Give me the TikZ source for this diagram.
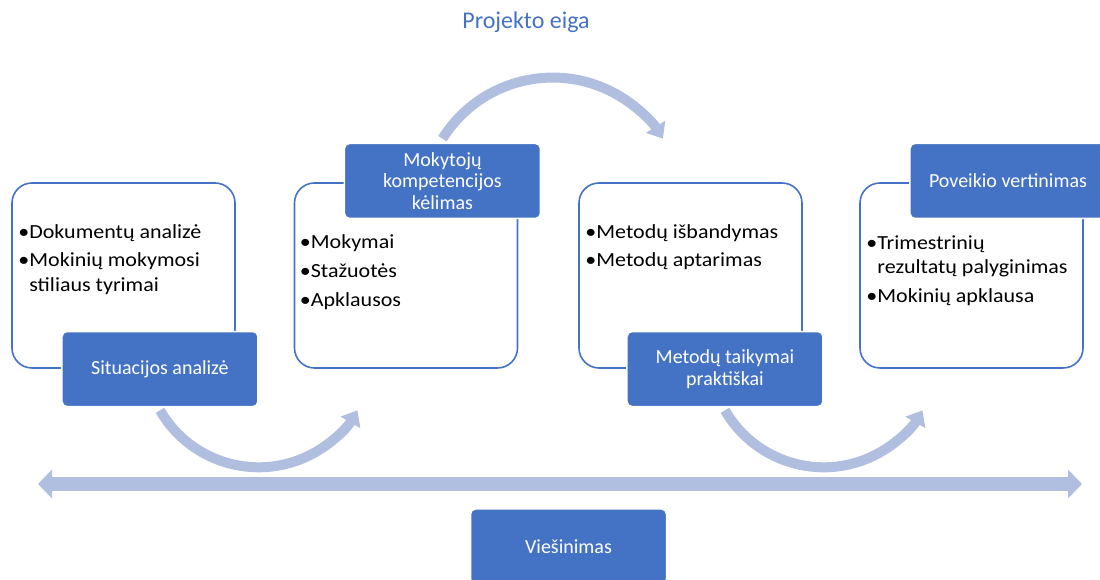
\documentclass[tikz,border=0pt]{standalone}
\usepackage{fontspec}
\setmainfont{Carlito}
\newfontfamily\listfont{Carlito}[FakeStretch = 1.1]
\usetikzlibrary{arrows.meta,positioning}

\definecolor{boxblue}{HTML}{4472C4}
\definecolor{flowblue}{HTML}{B0BEE0}

\begin{document}
\begin{tikzpicture}[%
        x = 1pt,
        y = 1pt,
        stage/.style = {%
            draw = boxblue,
            line width = 1.6pt,
            rounded corners = 20pt,
            fill = white,
            minimum width = 223pt,
            minimum height = 185pt
        },
        tag/.style = {%
            fill = boxblue,
            draw = white,
            line width = 1.5pt,
            rounded corners = 5pt,
            minimum width = 196pt,
            minimum height = 75pt,
            text = white,
            align = center,
            font = \fontsize{20}{21.5}\selectfont
        },
        items/.style = {%
            anchor = north west,
            align = left,
            inner sep = 0pt,
            font = \listfont\fontsize{20}{24.5}\selectfont
        },
        flow/.style = {%
            draw = flowblue,
            line width = 10pt,
            -{Triangle[width = 22pt, length = 14pt]}
        },
        spread/.style = {%
            draw = flowblue,
            line width = 14pt,
            {Triangle[width = 28pt, length = 14pt]}-{Triangle[width = 28pt, length = 14pt]}
        }
    ]

        % Fix the page to the size of the original.
        \clip (0, 0) rectangle (1100, 580);

        % Title over the whole process.
        \node[text = boxblue, font = \fontsize{24}{28}\selectfont] (title)
            at (526, 558) {Projekto eiga};

        % The four stage boxes with their lists.
        \node[stage] (sitbox) at (123.5, 304.5) {};
        \node[stage] (mokbox) at (406.0, 304.5) {};
        \node[stage] (metbox) at (690.5, 304.5) {};
        \node[stage] (povbox) at (971.5, 304.5) {};

        \node[items] (sitlist) at ([xshift = 7pt, yshift = -42pt]sitbox.north west)
            {\textbullet Dokumentų analizė\\[4pt]
             \textbullet Mokinių mokymosi\\
             \phantom{\textbullet}stiliaus tyrimai};
        \node[items] (moklist) at ([xshift = 6pt, yshift = -52pt]mokbox.north west)
            {\textbullet Mokymai\\[4.5pt]
             \textbullet Stažuotės\\[4.5pt]
             \textbullet Apklausos};
        \node[items] (metlist) at ([xshift = 7pt, yshift = -42pt]metbox.north west)
            {\textbullet Metodų išbandymas\\[4pt]
             \textbullet Metodų aptarimas};
        \node[items] (povlist) at ([xshift = 7pt, yshift = -53pt]povbox.north west)
            {\textbullet Trimestrinių\\
             \phantom{\textbullet}rezultatų palyginimas\\[4.5pt]
             \textbullet Mokinių apklausa};

        % Filled tags naming each stage.
        \node[tag, anchor = north west] (sit)
            at ([xshift = 50pt, yshift = 38pt]sitbox.south west) {Situacijos analizė};
        \node[tag, anchor = south west] (mok)
            at ([xshift = 50pt, yshift = -37pt]mokbox.north west)
            {Mokytojų\\kompetencijos\\kėlimas};
        \node[tag, anchor = north west] (met)
            at ([xshift = 48pt, yshift = 38pt]metbox.south west)
            {Metodų taikymai\\praktiškai};
        \node[tag, anchor = south west] (pov)
            at ([xshift = 50pt, yshift = -37pt]povbox.north west) {Poveikio vertinimas};

        % Curved arrows carrying one stage into the next.
        \draw[flow] ([yshift = -3pt]sit.south)
            arc[start angle = 210, end angle = 330, radius = 114];
        \draw[flow] ([yshift = 4pt]mok.north)
            arc[start angle = 148, end angle = 32, radius = 130];
        \draw[flow] ([yshift = -3pt]met.south)
            arc[start angle = 210, end angle = 330, radius = 114];

        % Publicity runs along the whole project.
        \coordinate (pubwest) at (38, 96);
        \coordinate (pubeast) at (1082, 96);
        \draw[spread] (pubwest) to (pubeast);

        \node[tag] (pub) at (568.5, 33.5) {Viešinimas};
    \end{tikzpicture}
\end{document}
